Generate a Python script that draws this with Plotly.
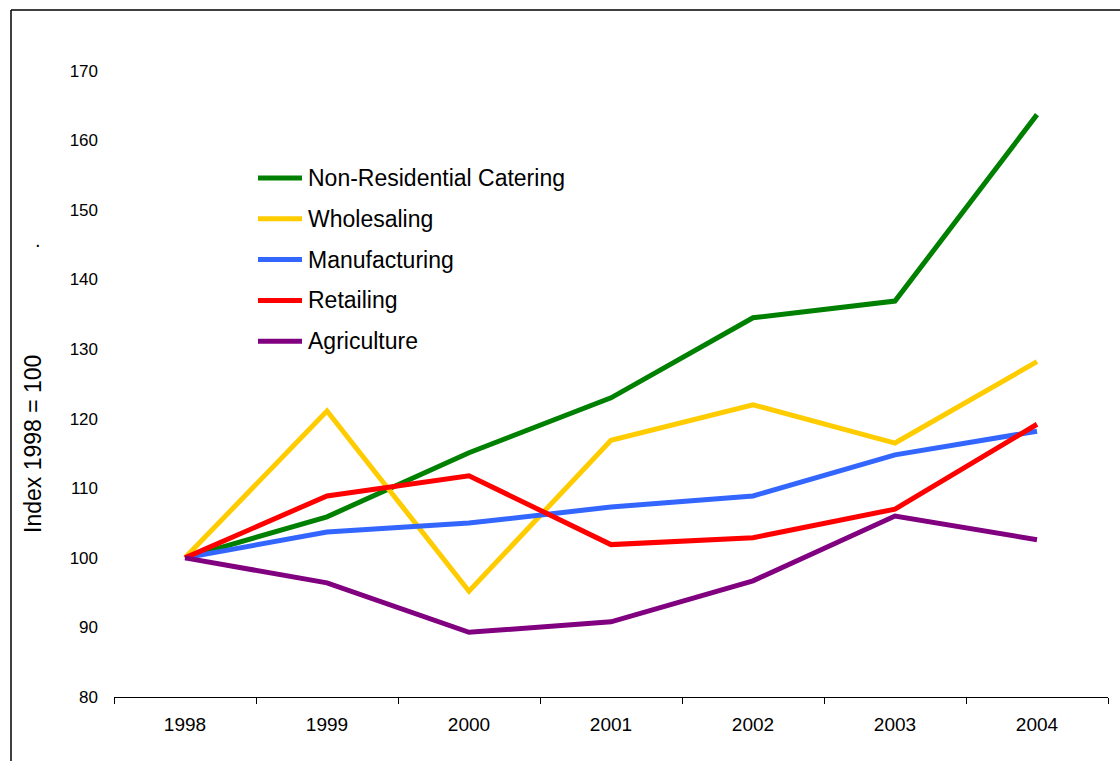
import plotly.graph_objects as go

years = ["1998", "1999", "2000", "2001", "2002", "2003", "2004"]
catering = [100, 105.9, 115.1, 123.0, 134.5, 136.9, 163.7]
wholesaling = [100, 121.1, 95.2, 116.9, 122.0, 116.5, 128.2]
manufacturing = [100, 103.7, 105.0, 107.3, 108.9, 114.8, 118.2]
retailing = [100, 108.9, 111.8, 101.9, 102.9, 107.0, 119.2]
agriculture = [100, 96.4, 89.3, 90.8, 96.7, 106.0, 102.6]

series = [
    ("Non-Residential Catering", catering, "#008000"),
    ("Wholesaling", wholesaling, "#FFCC00"),
    ("Manufacturing", manufacturing, "#3366FF"),
    ("Retailing", retailing, "#FF0000"),
    ("Agriculture", agriculture, "#800080"),
]

W, H = 1120, 761
ML, MR, MT, MB = 114, 12, 36, 64

pw = W - ML - MR
ph = H - MT - MB


def px_x(p):
    return (p - ML) / pw


def px_y(p):
    return (H - MB - p) / ph


fig = go.Figure()
for name, vals, color in series:
    fig.add_trace(go.Scatter(
        x=years, y=vals, name=name, mode="lines",
        line=dict(color=color, width=5),
        showlegend=False,
    ))

# key drawn in the upper-left of the plot: swatch line + label per series
KEY_X0, KEY_X1, KEY_TXT, KEY_TOP, KEY_STEP = 258, 302, 306, 178, 40.8
for i, (name, vals, color) in enumerate(series):
    yy = px_y(KEY_TOP + i * KEY_STEP)
    fig.add_shape(type="line", xref="paper", yref="paper",
                  x0=px_x(KEY_X0), x1=px_x(KEY_X1), y0=yy, y1=yy,
                  line=dict(color=color, width=5))
    fig.add_annotation(text=name, xref="paper", yref="paper",
                       x=px_x(KEY_TXT), y=yy, xanchor="left", yanchor="middle",
                       showarrow=False,
                       font=dict(family="Arial", size=23, color="black"))

# outer frame: left and top edges
fig.add_shape(type="line", xref="paper", yref="paper",
              x0=px_x(11), x1=px_x(11), y0=px_y(10), y1=px_y(H + 5),
              line=dict(color="black", width=1.5))
fig.add_shape(type="line", xref="paper", yref="paper",
              x0=px_x(11), x1=px_x(W + 5), y0=px_y(10), y1=px_y(10),
              line=dict(color="black", width=1.5))

fig.add_annotation(text="Index 1998 = 100", xref="paper", yref="paper",
                   x=px_x(33), y=px_y(444), textangle=-90, showarrow=False,
                   xanchor="center", yanchor="middle",
                   font=dict(family="Arial", size=23, color="black"))
fig.add_annotation(text=".", xref="paper", yref="paper",
                   x=px_x(33), y=px_y(227), showarrow=False,
                   font=dict(family="Arial", size=20, color="black"))

fig.update_layout(
    width=W, height=H,
    margin=dict(l=ML, r=MR, t=MT, b=MB),
    paper_bgcolor="white", plot_bgcolor="white",
    showlegend=False,
    xaxis=dict(
        type="category", range=[-0.5, 6.5],
        showline=True, linecolor="black", linewidth=1,
        ticks="outside", tickson="boundaries", ticklen=6, tickcolor="black",
        showgrid=False, zeroline=False,
        tickfont=dict(family="Arial", size=19, color="black"),
        ticklabelstandoff=10,
    ),
    yaxis=dict(
        range=[80, 175], tickvals=[80, 90, 100, 110, 120, 130, 140, 150, 160, 170],
        showline=False, ticks="", showgrid=False, zeroline=False,
        tickfont=dict(family="Arial", size=17, color="black"),
        ticklabelstandoff=15,
    ),
)

fig.write_html("out.html")
